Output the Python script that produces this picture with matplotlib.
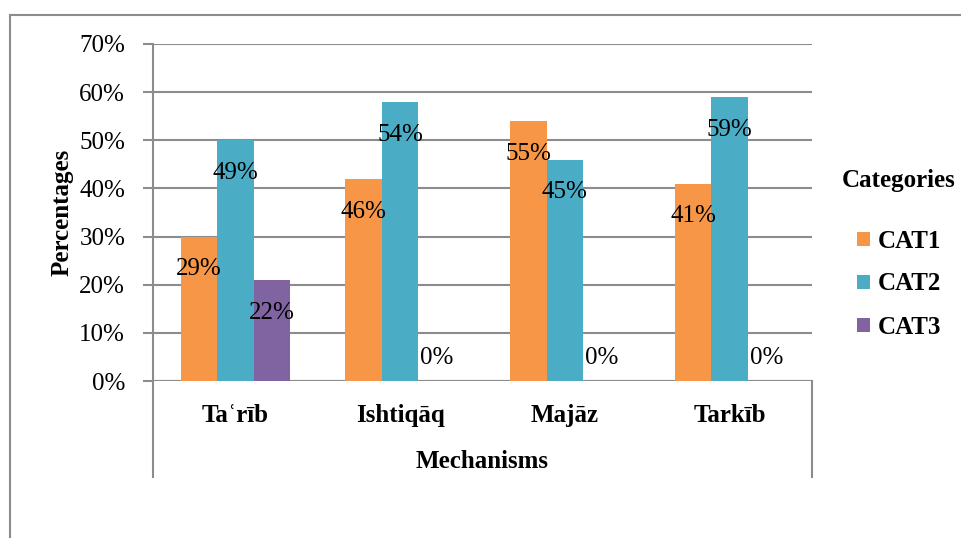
import matplotlib
matplotlib.use("Agg")
import matplotlib.pyplot as plt
import matplotlib.patches as mpatches
from matplotlib.lines import Line2D
import numpy as np

plt.rcParams['font.family'] = ['Liberation Serif', 'DejaVu Serif']

# data (bar heights and printed labels differ in the source)
mechanisms = ['Taʿrīb', 'Ishtiqāq', 'Majāz', 'Tarkīb']
series = ['CAT1', 'CAT2', 'CAT3']
cat1 = [0.30, 0.42, 0.54, 0.41]
cat2 = [0.50, 0.58, 0.46, 0.59]
cat3 = [0.21, 0.00, 0.00, 0.00]
cat1_labels = ['29%', '46%', '55%', '41%']
cat2_labels = ['49%', '54%', '45%', '59%']
cat3_labels = ['22%', '0%', '0%', '0%']
colors = ['#F79646', '#4BACC6', '#8064A2']

W, H = 962, 538
fig = plt.figure(figsize=(W / 100, H / 100), dpi=100)
grid_c = '#8C8C8C'

# axes placed in pixel terms
x0, x1, ytop, ybot = 153, 812, 44, 381
ax = fig.add_axes([x0 / W, (H - ybot) / H, (x1 - x0) / W, (ybot - ytop) / H])

x = np.arange(len(mechanisms))
w = 0.222
vals = [cat1, cat2, cat3]
labs = [cat1_labels, cat2_labels, cat3_labels]
handles = []
for i, (v, lab, c) in enumerate(zip(vals, labs, colors)):
    pos = x + (i - 1) * w
    b = ax.bar(pos, v, width=w, color=c, zorder=3, label=series[i])
    handles.append(b)
    for p, val, t in zip(pos, v, lab):
        ty = val - 0.068 if val > 0.1 else val + 0.048
        ax.text(p, ty, t, ha='center', va='center', fontsize=18, zorder=4)

ax.set_xlim(-0.5, 3.5)
ax.set_ylim(0, 0.7)
ax.set_yticks(np.arange(0, 0.71, 0.1))
ax.set_yticklabels([f'{int(round(t * 100))}%' for t in np.arange(0, 0.71, 0.1)], fontsize=18)
ax.yaxis.grid(True, color=grid_c, linewidth=1.5, zorder=0)
ax.set_xticks([])
for s in ['top', 'right', 'bottom']:
    ax.spines[s].set_visible(False)
ax.spines['left'].set_color(grid_c)
ax.spines['left'].set_linewidth(1.5)
ax.tick_params(axis='y', length=7, width=1.5, color=grid_c, pad=13)

# category area below the axis
ax.axhline(0, color=grid_c, linewidth=1.5, zorder=2)
for xp in [x0, x1]:
    fig.add_artist(Line2D([xp / W, xp / W], [(H - ybot) / H, (H - 477) / H],
                          color=grid_c, linewidth=1.5))
for i, m in enumerate(mechanisms):
    ax.text(i, -0.072, m, ha='center', va='center', fontsize=18, fontweight='bold')
fig.text((x0 + x1) / 2 / W, (H - 462) / H, 'Mechanisms', ha='center', va='center',
         fontsize=18, fontweight='bold')
fig.text(62 / W, (H - 212) / H, 'Percentages', ha='center', va='center',
         rotation=90, fontsize=18, fontweight='bold')

# outer chart frame
fig.add_artist(mpatches.Rectangle((10 / W, -0.2), 2, (H - 15) / H + 0.2,
                                  transform=fig.transFigure, fill=False,
                                  edgecolor=grid_c, linewidth=1.5))

# legend
fig.text(842 / W, (H - 180) / H, 'Categories', ha='left', va='center',
         fontsize=18, fontweight='bold')
leg = fig.legend(handles=handles, labels=series, loc='upper left',
                 bbox_to_anchor=(845 / W, (H - 217) / H), frameon=False,
                 fontsize=18, handlelength=0.5, handleheight=0.5,
                 handletextpad=0.3, labelspacing=0.8, borderpad=0)
for t in leg.get_texts():
    t.set_fontweight('bold')

fig.savefig('out.png', dpi=100)
